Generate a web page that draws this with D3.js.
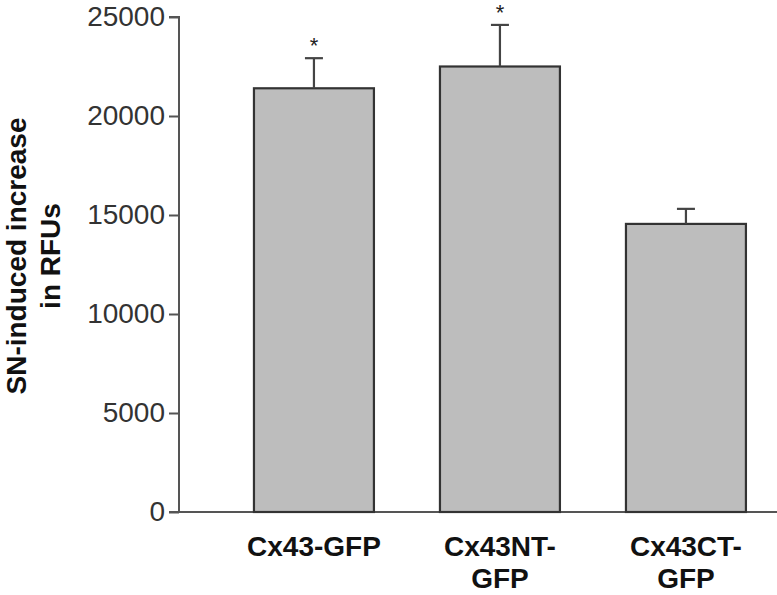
<!DOCTYPE html>
<html>
<head>
<meta charset="utf-8">
<script src="https://cdn.jsdelivr.net/npm/d3@7"></script>
<style>
  html, body { margin: 0; padding: 0; background: #fff; }
  svg { display: block; font-family: "Liberation Sans", Arial, Helvetica, sans-serif; }
</style>
</head>
<body>
<svg id="chart" width="777" height="595"></svg>
<script>
// ---- data ----
const categories = [["Cx43-GFP"], ["Cx43NT-", "GFP"], ["Cx43CT-", "GFP"]];
const categoryKeys = ["Cx43-GFP", "Cx43NT-GFP", "Cx43CT-GFP"];
const means = [21400, 22500, 14550];
const errors = [1520, 2100, 760];
const marks = ["*", "*", ""];
const yTicks = [0, 5000, 10000, 15000, 20000, 25000];
const yLabelLines = ["SN-induced increase", "in RFUs"];

// ---- layout ----
const svg = d3.select("#chart");
const axisX = 179;
const y = d3.scaleLinear().domain([0, 25000]).range([512, 17]);
const step = 186, pIn = 0.355, pOut = 0.403;
const x = d3.scaleBand()
  .domain(categoryKeys)
  .range([axisX, axisX + step * (categoryKeys.length - pIn + 2 * pOut)])
  .paddingInner(pIn)
  .paddingOuter(pOut);

const axisColor = "#555";

// y axis
const yAxis = d3.axisLeft(y).tickValues(yTicks).tickSize(10).tickPadding(4).tickFormat(d3.format("d"));
const gy = svg.append("g").attr("transform", `translate(${axisX},0)`).call(yAxis);
gy.select(".domain").attr("stroke", axisColor).attr("stroke-width", 2)
  .attr("d", `M-10,${y(25000)}H0V${y(0)}`);
gy.selectAll(".tick line").attr("stroke", axisColor).attr("stroke-width", 2);
gy.selectAll(".tick text").attr("fill", "#333").attr("font-size", 28)
  .attr("font-family", "'Liberation Sans', Arial, sans-serif");

// x axis baseline
svg.append("line")
  .attr("x1", axisX - 10).attr("x2", 777)
  .attr("y1", y(0)).attr("y2", y(0))
  .attr("stroke", axisColor).attr("stroke-width", 2);

// bars
const data = categoryKeys.map((k, i) => ({ key: k, mean: means[i], err: errors[i], mark: marks[i], lines: categories[i] }));

svg.append("g").selectAll("rect").data(data).join("rect")
  .attr("x", d => x(d.key))
  .attr("y", d => y(d.mean))
  .attr("width", x.bandwidth())
  .attr("height", d => y(0) - y(d.mean))
  .attr("fill", "#bdbdbd")
  .attr("stroke", "#333")
  .attr("stroke-width", 2.2);

// error bars
const eg = svg.append("g").attr("stroke", "#444").attr("stroke-width", 2.2);
eg.selectAll("line.v").data(data).join("line").attr("class", "v")
  .attr("x1", d => x(d.key) + x.bandwidth() / 2)
  .attr("x2", d => x(d.key) + x.bandwidth() / 2)
  .attr("y1", d => y(d.mean))
  .attr("y2", d => y(d.mean + d.err));
eg.selectAll("line.c").data(data).join("line").attr("class", "c")
  .attr("x1", d => x(d.key) + x.bandwidth() / 2 - 9)
  .attr("x2", d => x(d.key) + x.bandwidth() / 2 + 9)
  .attr("y1", d => y(d.mean + d.err))
  .attr("y2", d => y(d.mean + d.err));

// significance marks
svg.append("g").selectAll("text").data(data).join("text")
  .attr("x", d => x(d.key) + x.bandwidth() / 2)
  .attr("y", d => y(d.mean + d.err) - 5)
  .attr("text-anchor", "middle")
  .attr("font-size", 22)
  .attr("fill", "#222")
  .text(d => d.mark);

// category labels
const cl = svg.append("g").selectAll("text").data(data).join("text")
  .attr("x", d => x(d.key) + x.bandwidth() / 2)
  .attr("y", 556)
  .attr("text-anchor", "middle")
  .attr("font-size", 28)
  .attr("font-weight", "bold")
  .attr("fill", "#111");
cl.selectAll("tspan").data(d => d.lines.map((t, i) => ({ t, i, cx: x(d.key) + x.bandwidth() / 2 }))).join("tspan")
  .attr("x", d => d.cx)
  .attr("dy", d => d.i === 0 ? 0 : 32)
  .text(d => d.t);

// y label
const yl = svg.append("text")
  .attr("transform", "translate(26,256) rotate(-90)")
  .attr("text-anchor", "middle")
  .attr("font-size", 28)
  .attr("font-weight", "bold")
  .attr("fill", "#111");
yl.selectAll("tspan").data(yLabelLines).join("tspan")
  .attr("x", 0)
  .attr("dy", (d, i) => i === 0 ? 0 : 34)
  .text(d => d);
</script>
</body>
</html>
